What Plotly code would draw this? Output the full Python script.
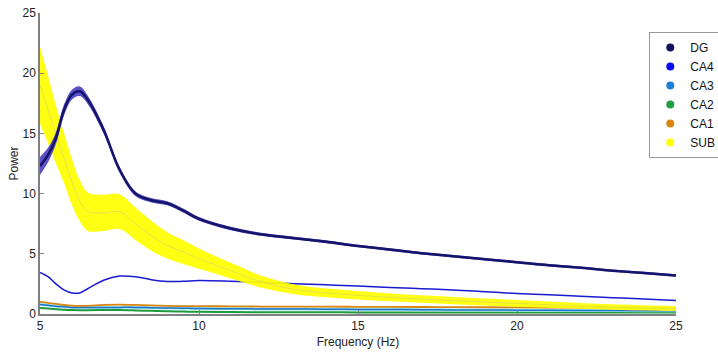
import plotly.graph_objects as go

freq = [5, 5.25, 5.5, 5.75, 6, 6.25, 6.5, 7, 7.5, 8, 8.5, 9, 9.5, 10, 11, 12, 13, 14, 15,
        16, 17, 18, 19, 20, 21, 22, 23, 24, 25]

dg_mean = [12.3, 13.2, 14.6, 16.9, 18.2, 18.5, 17.8, 15.3, 12.0, 10.0, 9.45, 9.2, 8.6, 7.9,
           7.1, 6.6, 6.3, 6.0, 5.65, 5.35, 5.05, 4.8, 4.55, 4.3, 4.05, 3.85, 3.6, 3.4, 3.2]
dg_sem = [0.75, 0.6, 0.5, 0.45, 0.4, 0.4, 0.35, 0.3, 0.25, 0.2, 0.18, 0.17, 0.16, 0.15,
          0.14, 0.13, 0.12, 0.12, 0.11, 0.11, 0.1, 0.1, 0.1, 0.1, 0.1, 0.1, 0.1, 0.1, 0.1]

ca4_mean = [3.45, 3.1, 2.5, 2.0, 1.75, 1.75, 2.1, 2.8, 3.15, 3.1, 2.85, 2.7, 2.72, 2.78,
            2.72, 2.62, 2.52, 2.42, 2.32, 2.2, 2.1, 2.0, 1.85, 1.7, 1.6, 1.47, 1.36, 1.25, 1.13]

ca3_mean = [0.78, 0.72, 0.65, 0.6, 0.55, 0.55, 0.55, 0.55, 0.55, 0.55, 0.52, 0.5, 0.48, 0.45,
            0.44, 0.42, 0.41, 0.4, 0.38, 0.37, 0.36, 0.34, 0.33, 0.32, 0.31, 0.3, 0.29, 0.28, 0.27]

ca2_mean = [0.5, 0.45, 0.4, 0.36, 0.33, 0.32, 0.32, 0.33, 0.33, 0.3, 0.26, 0.22, 0.2, 0.18,
            0.16, 0.15, 0.14, 0.14, 0.13, 0.13, 0.13, 0.12, 0.12, 0.12, 0.12, 0.12, 0.12, 0.12, 0.12]

ca1_mean = [1.0, 0.92, 0.85, 0.76, 0.7, 0.68, 0.68, 0.75, 0.78, 0.75, 0.72, 0.68, 0.66, 0.65,
            0.64, 0.62, 0.61, 0.61, 0.6, 0.59, 0.58, 0.57, 0.56, 0.55, 0.54, 0.53, 0.52, 0.51, 0.5]

sub_mean = [19.0, 17.0, 14.9, 13.0, 11.0, 9.4, 8.5, 8.4, 8.5, 7.5, 6.5, 5.7, 5.15, 4.6,
            3.6, 2.65, 2.05, 1.75, 1.55, 1.38, 1.24, 1.12, 1.0, 0.88, 0.77, 0.67, 0.58, 0.51, 0.45]
sub_sem = [3.2, 2.8, 2.4, 2.1, 1.9, 1.7, 1.6, 1.5, 1.45, 1.35, 1.25, 1.1, 1.0, 0.85,
           0.65, 0.5, 0.4, 0.36, 0.35, 0.33, 0.31, 0.3, 0.29, 0.28, 0.26, 0.24, 0.22, 0.21, 0.2]

names = ["DG", "CA4", "CA3", "CA2", "CA1", "SUB"]
legend_colors = ["#12125e", "#0a0af0", "#1f7fd6", "#1ea040", "#d9860f", "#ffff00"]

fig = go.Figure()


def band(mean, sem, color):
    upper = [m + s for m, s in zip(mean, sem)]
    lower = [m - s for m, s in zip(mean, sem)]
    fig.add_trace(go.Scatter(x=freq, y=upper, mode="lines", line=dict(width=0, shape="spline"),
                             showlegend=False, hoverinfo="skip"))
    fig.add_trace(go.Scatter(x=freq, y=lower, mode="lines", line=dict(width=0, shape="spline"),
                             fill="tonexty", fillcolor=color, showlegend=False, hoverinfo="skip"))


def line(mean, color, width):
    fig.add_trace(go.Scatter(x=freq, y=mean, mode="lines",
                             line=dict(color=color, width=width, shape="spline"),
                             showlegend=False))


# low-power traces
line(ca2_mean, "#1e9a3c", 2)
line(ca3_mean, "#9fe6f0", 3)
line(ca3_mean, "#1f72c4", 1.5)
line(ca1_mean, "#d9860f", 1.8)
line(ca4_mean, "#1a1ad0", 1.5)

# SUB band
band(sub_mean, sub_sem, "rgba(255,255,0,0.92)")
line(sub_mean, "#e6e04a", 1)

# DG band
band(dg_mean, dg_sem, "rgba(72,60,190,0.9)")
line(dg_mean, "#14146a", 2.5)

for n, c in zip(names, legend_colors):
    fig.add_trace(go.Scatter(x=[None], y=[None], mode="markers", name=n,
                             marker=dict(color=c, size=8)))

fig.update_layout(
    width=718, height=353,
    margin=dict(l=40, r=42, t=13, b=39, autoexpand=False),
    paper_bgcolor="white", plot_bgcolor="white",
    font=dict(family="Liberation Sans, Arial", size=12, color="#222222"),
    showlegend=True,
    legend=dict(x=0.958, y=0.937, xanchor="left", yanchor="top",
                bordercolor="#999999", borderwidth=1, bgcolor="white",
                font=dict(size=12, color="#111111"), tracegroupgap=0,
                traceorder="normal"),
    xaxis=dict(range=[5, 25], tickvals=[5, 10, 15, 20, 25], showgrid=False, zeroline=False,
               showline=True, linecolor="#808080", linewidth=1.5, ticks="inside", ticklen=4,
               tickcolor="#808080",
               title=dict(text="Frequency (Hz)", font=dict(size=12), standoff=5)),
    yaxis=dict(range=[0, 25], tickvals=[0, 5, 10, 15, 20, 25], showgrid=False, zeroline=False,
               showline=True, linecolor="#808080", linewidth=1.5, ticks="inside", ticklen=4,
               tickcolor="#808080",
               title=dict(text="Power", font=dict(size=12), standoff=1)),
)

fig.write_html("out.html")
